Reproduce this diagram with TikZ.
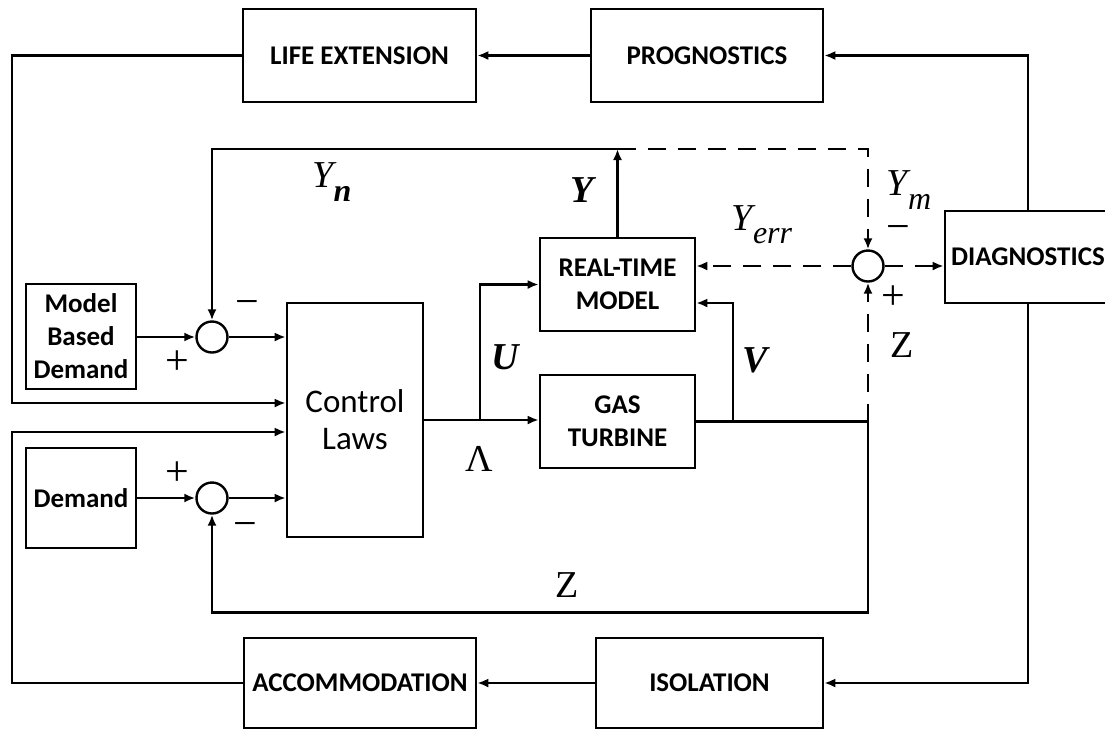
\documentclass[tikz,border=0pt]{standalone}
\usepackage{fontspec}
\setmainfont{Carlito}
\newfontfamily\lblfont{Liberation Serif}
\usepackage{tikz}
\usetikzlibrary{arrows.meta,calc}
\newcommand{\lowsub}[1]{\raisebox{-0.35em}{\fontsize{16}{16}\selectfont #1}}

\begin{document}
\begin{tikzpicture}[x=0.5pt, y=-0.5pt, line width=1.1pt,
  blk/.style={draw, line width=1.3pt, align=center, inner sep=0pt, font=\bfseries\fontsize{13.5}{16.5}\selectfont},
  sumpt/.style={draw, circle, line width=1.2pt, minimum size=15.5pt, inner sep=0pt},
  sig/.style={-{Latex[length=5.5pt,width=4.5pt]}},
  dsh/.style={dash pattern=on 9pt off 6pt},
  lbl/.style={font=\lblfont\fontsize{19}{19}\selectfont, inner sep=0pt},
  sgn/.style={font=\lblfont\fontsize{21}{21}\selectfont, inner sep=0pt}]
  \useasboundingbox (0,0) rectangle (1105,730);
  \node[blk, minimum width=116.5pt, minimum height=46.5pt] (life) at (359.5,55.5) {LIFE EXTENSION};
  \node[blk, minimum width=116pt, minimum height=46.5pt] (prog) at (707,55.5) {PROGNOSTICS};
  \node[blk, minimum width=92pt, minimum height=46pt] (diag) at (1037,257) {\hspace*{-9pt}DIAGNOSTICS};
  \node[blk, minimum width=77.5pt, minimum height=46.5pt] (rtm) at (617.5,284.5) {REAL-TIME\\MODEL};
  \node[blk, minimum width=77.5pt, minimum height=46.5pt] (gt) at (617.5,421.5) {GAS\\TURBINE};
  \node[blk, minimum width=68pt, minimum height=117pt, font=\fontsize{16.5}{18.5}\selectfont] (cl) at (355,420) {Control\\Laws};
  \node[blk, minimum width=55pt, minimum height=52.5pt] (mbd) at (81,336.5) {Model\\Based\\Demand};
  \node[blk, minimum width=55pt, minimum height=50pt] (dem) at (81,498) {Demand};
  \node[blk, minimum width=116pt, minimum height=45pt] (acc) at (360,683) {ACCOMMODATION};
  \node[blk, minimum width=113.5pt, minimum height=45pt] (iso) at (709.5,683) {ISOLATION};
  \node[sumpt] (s1) at (212,337) {};
  \node[sumpt] (s2) at (868,266) {};
  \node[sumpt] (s3) at (212,498) {};
  \coordinate (ytap) at (rtm.north |- 0,149);
  \coordinate (utap) at (480,420);
  \coordinate (vtap) at (733,420);
  \coordinate (ztap) at (s2 |- gt.east);
  \coordinate (dtap) at (1028,0);
  \draw[sig] (prog.west) -- (life.east);
  \draw[sig] (life.west) -| (12,403) -- (cl.west |- 12,403);
  \draw[sig] (acc.west) -| (12,432) -- (cl.west |- 12,432);
  \draw[sig] (mbd.east |- s1) -- (s1.west);
  \draw[sig] (s1.east) -- (cl.west |- s1);
  \draw[sig] (dem.east |- s3) -- (s3.west);
  \draw[sig] (s3.east) -- (cl.west |- s3);
  \draw[sig] (rtm.north) -- (ytap);
  \draw[sig] (ytap) -| (s1.north);
  \draw[sig, dsh] (ytap) -| (s2.north);
  \draw[sig, dsh] (s2.west) -- (rtm.east |- s2);
  \draw[sig, dsh] (s2.east) -- (diag.west |- s2);
  \draw[sig] (cl.east) -- (gt.west |- cl.east);
  \draw[sig] (utap) |- (rtm.west);
  \draw (gt.east |- ztap) -- (ztap);
  \draw[sig] (vtap) |- ($(rtm.east)+(0,18.5)$);
  \draw[sig, dsh] (ztap) -- (s2.south);
  \draw[sig] (ztap) -- ++(0,191) -| (s3.south);
  \draw[sig] (dtap |- diag.north) |- (prog.east);
  \draw[sig] (dtap |- diag.south) |- (iso.east);
  \draw[sig] (iso.west) -- (acc.east);
  \node[lbl] (yn) at (332,182) {\itshape Y\lowsub{\bfseries n}};
  \node[lbl] (ylab) at (582,190) {\bfseries\itshape Y};
  \node[lbl] (ym) at (909,190) {\itshape Y\lowsub{m}};
  \node[lbl] (yerr) at (762,225) {\itshape Y\lowsub{err}};
  \node[lbl] (ulab) at (505,357) {\bfseries\itshape U};
  \node[lbl] (vlab) at (755,360) {\bfseries\itshape V};
  \node[lbl] (lam) at (479,459) {Λ};
  \node[lbl] (zlow) at (567,585) {Z};
  \node[lbl] (zup) at (902,345) {Z};
  \node[sgn] (s1m) at (247,308) {−};
  \node[sgn] (s1p) at (177,363) {+};
  \node[sgn] (s2m) at (898,233) {−};
  \node[sgn] (s2p) at (893,298) {+};
  \node[sgn] (s3p) at (177,474) {+};
  \node[sgn] (s3m) at (245,530) {−};
\end{tikzpicture}
\end{document}
